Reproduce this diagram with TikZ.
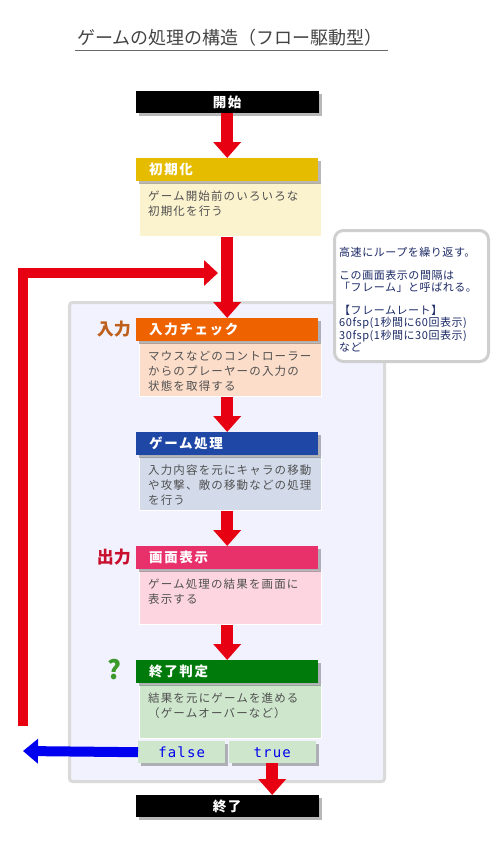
\documentclass[tikz,border=0pt]{standalone}
\usepackage{fontspec}
\setmainfont{Noto Sans CJK JP}
\newfontfamily\headfont[LetterSpace=12]{Noto Sans CJK JP}
\newfontfamily\bodyfont[LetterSpace=10]{Noto Sans CJK JP}
\newfontfamily\notefont[LetterSpace=5]{Noto Sans CJK JP}
\newfontfamily\codefont[LetterSpace=8]{DejaVu Sans Mono}
\usetikzlibrary{arrows.meta,shadows,positioning}
\definecolor{flowred}{HTML}{E60012}
\definecolor{flowblue}{HTML}{0000F0}
\definecolor{titlegray}{HTML}{444444}
\definecolor{bodygray}{HTML}{505050}
\definecolor{notenavy}{HTML}{1C2A66}
\definecolor{notegray}{HTML}{CFCFCF}
\definecolor{panelfill}{HTML}{F2F2FE}
\definecolor{panelline}{HTML}{DADADA}
\definecolor{headYellow}{HTML}{E6BC00}
\definecolor{bodyYellow}{HTML}{FBF2CE}
\definecolor{headOrange}{HTML}{EE6200}
\definecolor{bodyOrange}{HTML}{FCDDCA}
\definecolor{headBlue}{HTML}{1F47A6}
\definecolor{bodyBlue}{HTML}{D3DBEB}
\definecolor{headPink}{HTML}{E8306B}
\definecolor{bodyPink}{HTML}{FDD5E1}
\definecolor{headGreen}{HTML}{007A0A}
\definecolor{bodyGreen}{HTML}{CDE6CC}
\definecolor{inlabel}{HTML}{BF5F1C}
\definecolor{outlabel}{HTML}{C8102E}
\definecolor{markgreen}{HTML}{3C9A2A}
\tikzset{
  boxshadow/.style={
    drop shadow={shadow xshift=3pt, shadow yshift=-3pt, fill=black, opacity=0.28}
  },
  headbox/.style={
    anchor=north west, boxshadow,
    minimum width=182pt, minimum height=23pt,
    text width=156pt, inner xsep=13pt, inner ysep=0pt, align=left,
    text=white, font=\headfont\bfseries\fontsize{13.5}{15}\selectfont
  },
  bodybox/.style={
    anchor=north west, draw=white, line width=1.2pt,
    minimum width=182pt, minimum height=54pt, inner sep=0pt
  },
  bodytext/.style={
    anchor=north west, inner sep=0pt, align=left,
    text=bodygray, font=\bodyfont\fontsize{11.5}{14.8}\selectfont
  },
  termbox/.style={
    anchor=north west, boxshadow, fill=black,
    minimum width=183pt, minimum height=22pt, inner sep=0pt,
    text=white, font=\headfont\bfseries\fontsize{13.5}{15}\selectfont
  },
  choicebox/.style={
    anchor=north west, boxshadow, fill=bodyGreen,
    minimum width=87pt, minimum height=22pt, inner sep=0pt,
    text=flowblue, font=\codefont\fontsize{14}{14}\selectfont
  },
  sidelabel/.style={
    anchor=east, inner sep=0pt,
    font=\bfseries\fontsize{17}{17}\selectfont
  },
  redflow/.style={
    draw=flowred, line width=12pt,
    -{Triangle[width=27pt,length=16pt]}
  },
  loopflow/.style={
    draw=flowred, line width=10pt,
    -{Triangle[width=25pt,length=14pt]}
  },
  exitflow/.style={
    draw=flowblue, line width=10pt,
    -{Triangle[width=24pt,length=15pt]}
  }
}
\newcommand{\FlowStep}[5]{%
  % #1 = node name, #2 = top edge of the header
  % #3 = colour suffix, #4 = title, #5 = description
  \node[bodybox, fill=body#3] (#1-body) at (139,#2+24) {};
  \node[headbox, fill=head#3] (#1-head) at (136,#2) {#4};
  \node[bodytext] (#1-text) at ([xshift=9pt,yshift=-9pt]#1-body.north west) {#5};
}
\begin{document}
\begin{tikzpicture}[x=1pt, y=-1pt]
  \useasboundingbox[fill=white] (0,0) rectangle (500,841);

  % title
  \node[anchor=west, inner sep=0pt, text=titlegray,
    font=\fontsize{18}{18}\selectfont] (title) at (77,38)
    {ゲームの処理の構造（フロー駆動型）};
  \draw[titlegray!80, line width=1.5pt] (75,50.5) -- (388,50.5);

  % loop area
  \node[anchor=north west, fill=panelfill, draw=panelline, line width=3pt,
    rounded corners=3pt, minimum width=315pt, minimum height=479pt,
    inner sep=0pt] (loop-panel) at (68,301) {};

  \coordinate (loop-start) at (23,726);
  \coordinate (loop-tip) at (218,273);
  \coordinate (exit-tip) at (23,751);
  \draw[loopflow] (loop-start) |- (loop-tip);

  % start
  \node[termbox] (start-box) at (135.5,91) {開始};

  % steps
  \FlowStep{init}{158}{Yellow}{初期化}{ゲーム開始前のいろいろな\\初期化を行う}
  \FlowStep{check}{318}{Orange}{入力チェック}{マウスなどのコントローラー\\からのプレーヤーの入力の\\状態を取得する}
  \FlowStep{update}{432}{Blue}{ゲーム処理}{入力内容を元にキャラの移動\\や攻撃、敵の移動などの処理\\を行う}
  \FlowStep{draw}{546}{Pink}{画面表示}{ゲーム処理の結果を画面に\\表示する}
  \FlowStep{judge}{660}{Green}{終了判定}{結果を元にゲームを進める\\（ゲームオーバーなど）}

  \node[sidelabel, text=inlabel] (in-label) at (131,329) {入力};
  \node[sidelabel, text=outlabel] (out-label) at (131,557) {出力};
  \node[anchor=center, inner sep=0pt, text=markgreen,
    font=\bfseries\fontsize{26}{26}\selectfont] (judge-mark) at (114,670) {?};

  % branch
  \node[choicebox] (false-box) at (138,741) {false};
  \node[choicebox] (true-box) at (228.5,741) {true};

  % end
  \node[termbox] (end-box) at (135.5,795) {終了};

  % arrows
  \draw[redflow] (start-box.south) -- (init-head.north);
  \draw[redflow] (init-head.north |- init-body.south) -- (check-head.north);
  \draw[redflow] (check-head.north |- check-body.south) -- (update-head.north);
  \draw[redflow] (update-head.north |- update-body.south) -- (draw-head.north);
  \draw[redflow] (draw-head.north |- draw-body.south) -- (judge-head.north);
  \draw[redflow] (true-box.south) -- (true-box.south |- end-box.north);
  \draw[exitflow] (false-box.west) -- (exit-tip);

  % note
  \node[anchor=north west, fill=white, draw=notegray, line width=3pt,
    rounded corners=9pt, minimum width=154pt, minimum height=131pt,
    inner sep=0pt] (loop-note) at (333,229) {};
  \node[anchor=north west, inner sep=0pt, align=left, text=notenavy,
    font=\notefont\fontsize{11}{11.7}\selectfont] (note-text) at (339,247)
    {高速にループを繰り返す。\\[11.7pt]
     この画面表示の間隔は\\
     「フレーム」と呼ばれる。\\[11.7pt]
     【フレームレート】\\
     60fsp(1秒間に60回表示)\\
     30fsp(1秒間に30回表示)\\
     など};
\end{tikzpicture}
\end{document}
